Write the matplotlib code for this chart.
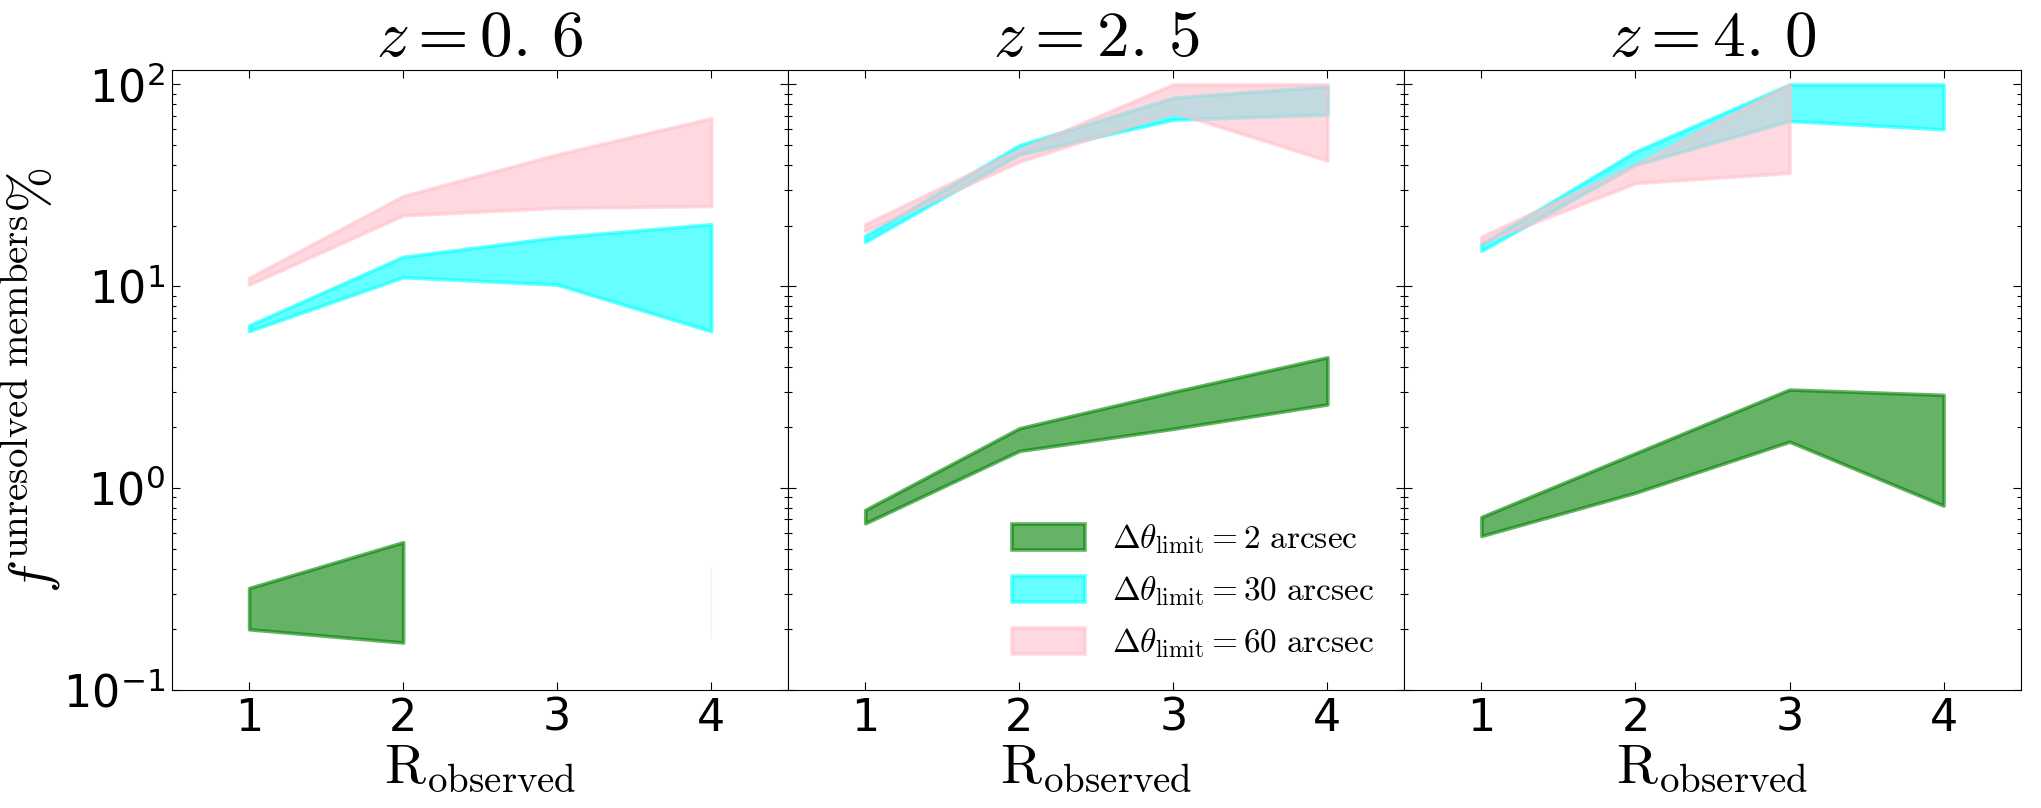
import numpy as np
import matplotlib
matplotlib.use("Agg")
import matplotlib.pyplot as plt

nan = np.nan

# observed multiplicity
r_obs = [1, 2, 3, 4]
redshifts = ["0.6", "2.5", "4.0"]

# fraction of unresolved members (%), lower / upper bounds
# z = 0.6
green_lo_06 = [0.20, 0.172, nan, 0.18]
green_hi_06 = [0.32, 0.54, nan, 0.41]
cyan_lo_06 = [6.0, 11.1, 10.2, 6.0]
cyan_hi_06 = [6.4, 14.0, 17.5, 20.3]
pink_lo_06 = [10.2, 22.5, 24.5, 25.0]
pink_hi_06 = [11.0, 28.0, 45.0, 68.0]

# z = 2.5
green_lo_25 = [0.67, 1.53, 1.97, 2.6]
green_hi_25 = [0.78, 1.98, 3.0, 4.45]
cyan_lo_25 = [16.6, 45.0, 67.0, 71.0]
cyan_hi_25 = [17.8, 50.0, 86.0, 98.0]
pink_lo_25 = [18.8, 41.5, 73.0, 42.0]
pink_hi_25 = [20.3, 47.5, 100.0, 100.0]

# z = 4.0
green_lo_40 = [0.58, 0.95, 1.70, 0.82]
green_hi_40 = [0.72, 1.49, 3.08, 2.90]
cyan_lo_40 = [15.0, 40.0, 66.0, 60.0]
cyan_hi_40 = [16.2, 46.5, 100.0, 100.0]
pink_lo_40 = [16.4, 32.5, 36.5, nan]
pink_hi_40 = [17.6, 40.0, 100.0, nan]

green = [(green_lo_06, green_hi_06), (green_lo_25, green_hi_25), (green_lo_40, green_hi_40)]
cyan = [(cyan_lo_06, cyan_hi_06), (cyan_lo_25, cyan_hi_25), (cyan_lo_40, cyan_hi_40)]
pink = [(pink_lo_06, pink_hi_06), (pink_lo_25, pink_hi_25), (pink_lo_40, pink_hi_40)]

labels = [r"$\Delta\theta_{\rm limit}=2\ {\rm arcsec}$",
          r"$\Delta\theta_{\rm limit}=30\ {\rm arcsec}$",
          r"$\Delta\theta_{\rm limit}=60\ {\rm arcsec}$"]


def band(ax, x, lo, hi, color, label):
    x = np.array(x, dtype=float)
    lo = np.array(lo, dtype=float)
    hi = np.array(hi, dtype=float)
    ok = np.isfinite(lo) & np.isfinite(hi)
    # isolated points (no finite neighbour) give a zero-width sliver only
    lone = ok.copy()
    for k in range(len(x)):
        left = k > 0 and ok[k - 1]
        right = k < len(x) - 1 and ok[k + 1]
        lone[k] = ok[k] and not (left or right)
    lo_f = np.where(lone, nan, lo)
    hi_f = np.where(lone, nan, hi)
    ax.fill_between(x, lo_f, hi_f, color=color, alpha=0.6, lw=2.6, label=label)
    if lone.any():
        ax.vlines(x[lone], lo[lone], hi[lone], color=color, alpha=0.08, lw=1)


fig, axes = plt.subplots(1, 3, sharey=True, figsize=(20.41, 8.08), dpi=100)
fig.subplots_adjust(left=0.0843, right=0.9900, top=0.9134, bottom=0.146, wspace=0)

for i, ax in enumerate(axes):
    band(ax, r_obs, green[i][0], green[i][1], "green", labels[0])
    band(ax, r_obs, cyan[i][0], cyan[i][1], "cyan", labels[1])
    band(ax, r_obs, pink[i][0], pink[i][1], "pink", labels[2])

    ax.set_yscale("log")
    ax.set_ylim(0.1, 118)
    ax.set_xlim(0.5, 4.5)
    ax.set_xticks(r_obs)
    ax.tick_params(which="both", direction="in", top=True, right=True, labelsize=32, pad=5)
    ax.tick_params(which="major", length=5.6, width=0.8)
    ax.tick_params(which="minor", length=2.8, width=0.8)
    ax.set_title(r"$z=%s$" % redshifts[i].replace(".", r".\,"), fontsize=47,
                 math_fontfamily="cm", pad=4)
    ax.set_xlabel(r"$\rm R_{observed}$", fontsize=40, math_fontfamily="cm", labelpad=0)

axes[0].set_ylabel(r"$f^{\rm unresolved\ members}\%$", fontsize=40, math_fontfamily="cm", labelpad=0)

leg = axes[1].legend(loc="lower right", frameon=False, fontsize=24, handlelength=2.2,
                     handleheight=0.8, labelspacing=0.55)
for t in leg.get_texts():
    t.set_math_fontfamily("cm")

fig.savefig("out.png", dpi=100, facecolor="white")
